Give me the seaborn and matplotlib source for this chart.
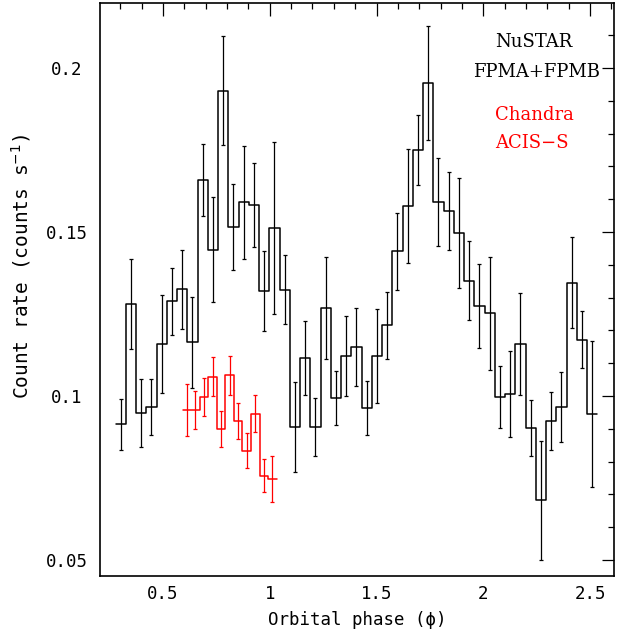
import numpy as np
import pandas as pd
import matplotlib
matplotlib.use("Agg")
import matplotlib.pyplot as plt
from matplotlib.ticker import MultipleLocator, FuncFormatter
import seaborn as sns

# ---------------- data ----------------
# NuSTAR FPMA+FPMB folded light curve
nu_first_phase = 0.302
nu_bin_width = 0.048
nu_rate = [0.0913, 0.1280, 0.0948, 0.0966, 0.1159, 0.1288, 0.1325, 0.1163,
           0.1659, 0.1446, 0.1931, 0.1515, 0.1591, 0.1582, 0.1320, 0.1512,
           0.1324, 0.0906, 0.1115, 0.0906, 0.1269, 0.0993, 0.1122, 0.1150,
           0.0963, 0.1122, 0.1215, 0.1441, 0.1579, 0.1750, 0.1954, 0.1590,
           0.1565, 0.1496, 0.1351, 0.1274, 0.1252, 0.0996, 0.1006, 0.1159,
           0.0902, 0.0682, 0.0924, 0.0966, 0.1345, 0.1172, 0.0945]
nu_err = [0.0077, 0.0138, 0.0103, 0.0086, 0.0149, 0.0101, 0.0120, 0.0138,
          0.0109, 0.0159, 0.0166, 0.0132, 0.0172, 0.0129, 0.0123, 0.0261,
          0.0105, 0.0138, 0.0112, 0.0089, 0.0155, 0.0082, 0.0121, 0.0119,
          0.0083, 0.0144, 0.0102, 0.0118, 0.0173, 0.0107, 0.0174, 0.0134,
          0.0119, 0.0167, 0.0120, 0.0129, 0.0173, 0.0094, 0.0131, 0.0156,
          0.0086, 0.0181, 0.0088, 0.0106, 0.0139, 0.0088, 0.0222]

# Chandra ACIS-S folded light curve
ch_first_phase = 0.612
ch_bin_width = 0.040
ch_rate = [0.0957, 0.0957, 0.0996, 0.1059, 0.0900, 0.1063, 0.0925, 0.0833,
           0.0946, 0.0757, 0.0748]
ch_err = [0.0078, 0.0057, 0.0058, 0.0059, 0.0055, 0.0060, 0.0055, 0.0053,
          0.0056, 0.0050, 0.0070]

x_ticks = [0.5, 1.0, 1.5, 2.0, 2.5]
y_ticks = [0.05, 0.10, 0.15, 0.20]


def step_frame(first, width, rates, name):
    centers = first + width * np.arange(len(rates))
    edges = np.append(centers - width / 2, centers[-1] + width / 2)
    vals = np.append(rates, rates[-1])
    return centers, pd.DataFrame({"phase": edges, "rate": vals, "inst": name})


nu_c, nu_df = step_frame(nu_first_phase, nu_bin_width, nu_rate, "NuSTAR")
ch_c, ch_df = step_frame(ch_first_phase, ch_bin_width, ch_rate, "Chandra")

# ---------------- style ----------------
sns.set_theme(style="white")
plt.rcParams["font.family"] = ["DejaVu Sans Mono", "DejaVu Sans"]
plt.rcParams["mathtext.fontset"] = "dejavusans"

fig = plt.figure(figsize=(6.33, 6.34), dpi=100)
ax = fig.add_axes([100 / 633, 1 - 575.7 / 634, 514 / 633, (575.7 - 3.3) / 634])

sns.lineplot(data=nu_df, x="phase", y="rate", drawstyle="steps-post",
             color="black", lw=1.1, estimator=None, sort=False, ax=ax)
ax.errorbar(nu_c, nu_rate, yerr=nu_err, fmt="none", ecolor="black",
            elinewidth=0.9, capsize=1.4, capthick=0.9)

sns.lineplot(data=ch_df, x="phase", y="rate", drawstyle="steps-post",
             color="#ff0000", lw=1.1, estimator=None, sort=False, ax=ax)
ax.errorbar(ch_c, ch_rate, yerr=ch_err, fmt="none", ecolor="#ff0000",
            elinewidth=0.9, capsize=1.4, capthick=0.9)

ax.set_xlim(0.205, 2.612)
ax.set_ylim(0.0452, 0.2197)
ax.set_xticks(x_ticks)
ax.set_yticks(y_ticks)
ax.xaxis.set_minor_locator(MultipleLocator(0.1))
ax.yaxis.set_minor_locator(MultipleLocator(0.01))
fmt = FuncFormatter(lambda v, p: "%g" % round(v, 3))
ax.xaxis.set_major_formatter(fmt)
ax.yaxis.set_major_formatter(fmt)

for s in ax.spines.values():
    s.set_linewidth(1.2)
    s.set_color("black")
ax.tick_params(which="both", direction="in", top=True, right=True,
               colors="black", width=0.9, labelsize=12.5)
ax.tick_params(which="major", length=9)
ax.tick_params(which="minor", length=4.6)
ax.tick_params(axis="x", pad=7)
ax.tick_params(axis="y", pad=24)
plt.setp(ax.get_yticklabels(), ha="center")

ax.set_xlabel("Orbital phase (ϕ)", fontsize=12.5, color="black")
ax.set_ylabel("Count rate (counts s$^{-1}$)", fontsize=14, color="black")
ax.xaxis.set_label_coords(0.5, -0.062)
ax.yaxis.set_label_coords(-0.13, 0.541)

serif = ["DejaVu Serif"]
ax.text(2.055, 0.2065, "NuSTAR", family=serif, fontsize=13, color="black")
ax.text(1.952, 0.1972, "FPMA+FPMB", family=serif, fontsize=13, color="black")
ax.text(2.055, 0.1841, "Chandra", family=serif, fontsize=13, color="#ff0000")
ax.text(2.055, 0.1756, "ACIS\u2212S", family=serif, fontsize=13, color="#ff0000")

fig.savefig("out.png", dpi=100)
